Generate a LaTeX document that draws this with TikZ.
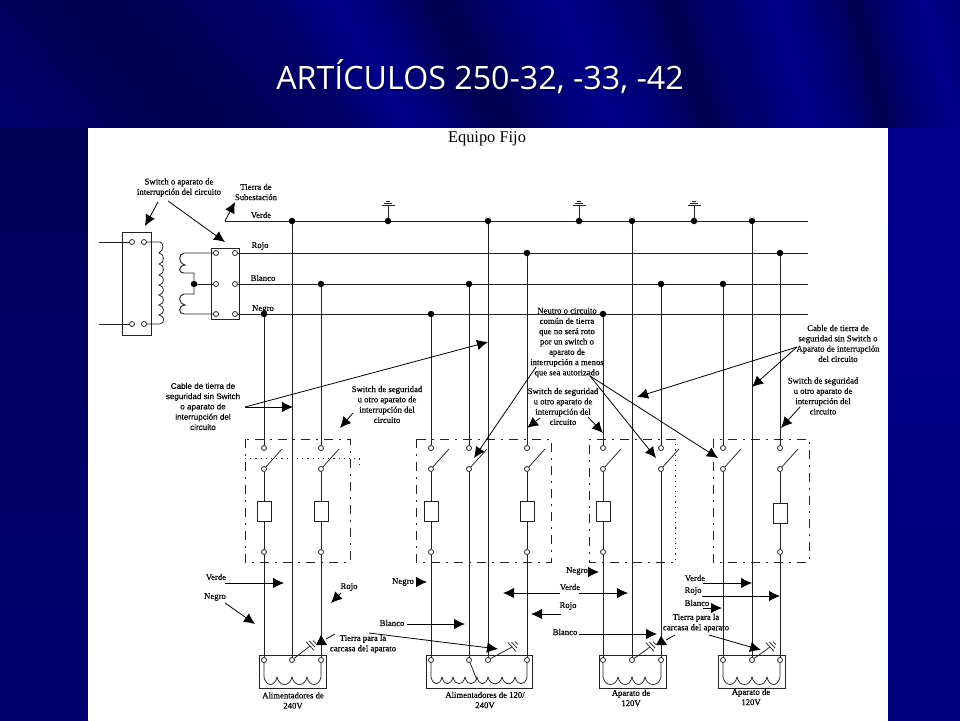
\documentclass[tikz,border=0pt]{standalone}
\usepackage{fontspec}
\setmainfont{Liberation Serif}
\newfontfamily\lblfont[FakeBold=0.35]{Liberation Serif}
\newfontfamily\cablefont[FakeBold=0.25]{Liberation Sans}
\newfontfamily\titlefont{Open Sans}
\usetikzlibrary{arrows.meta,calc}
\definecolor{baseblue}{RGB}{0,0,110}
\definecolor{brightblue}{RGB}{0,0,205}
\definecolor{darkblue}{RGB}{0,0,35}
\definecolor{leftTop}{RGB}{0,0,88}
\definecolor{leftBot}{RGB}{0,0,112}
\definecolor{rightTop}{RGB}{0,0,145}
\definecolor{rightBot}{RGB}{0,0,122}
\definecolor{ink}{RGB}{35,35,35}
\tikzset{
  wire/.style={draw=ink,line width=0.95pt},
  thinwire/.style={draw=ink,line width=0.75pt},
  jct/.style={circle,fill=black,draw=none,inner sep=0pt,minimum size=6.5pt},
  term/.style={circle,fill=white,draw=ink,line width=0.8pt,inner sep=0pt,minimum size=5pt},
  fuse/.style={rectangle,fill=white,draw=ink,line width=0.95pt,inner sep=0pt,minimum width=14pt,minimum height=20pt},
  panelbox/.style={draw=ink,line width=1pt,dash pattern=on 9pt off 6pt on 2pt off 6pt},
  dotline/.style={draw=ink,line width=0.8pt,dash pattern=on 1.2pt off 4pt},
  unit/.style={rectangle,draw=ink,line width=0.95pt},
  callout/.style={draw=black,line width=0.8pt,-{Latex[length=11pt,width=10.5pt]}},
  plainline/.style={draw=black,line width=0.8pt},
  lbl/.style={inner sep=0pt,align=center,text=black,font=\lblfont\fontsize{8.7}{10.3}\selectfont},
  cablelbl/.style={inner sep=0pt,align=center,text=black,font=\cablefont\fontsize{8.1}{10.3}\selectfont},
}
% soft background streak: x on the top edge, half width, drift over 128 px, colour
\newcommand\softband[4]{%
  \foreach \k in {1,...,10}{%
    \fill[#4,opacity=.04] ({#1-#2*\k/10},0) -- ({#1+#2*\k/10},0) -- ({#1+#3+#2*\k/10},128) -- ({#1+#3-#2*\k/10},128) -- cycle;
  }%
}
% switch column with a load: id, x, bus y, fuse centre y
\newcommand\loadcol[4]{%
  \node[jct] (J#1) at (#2,#3) {};
  \node[term] (U#1) at (#2,448) {};
  \node[term] (L#1) at (#2,469) {};
  \node[fuse] (F#1) at (#2,#4) {};
  \node[term] (Q#1) at (#2,552) {};
  \node[term] (T#1) at (#2,660) {};
  \coordinate (B#1) at ({#2+18},449);
  \draw[wire] (J#1) -- (U#1);
  \draw[thinwire] (L#1) -- (B#1);
  \draw[wire] (L#1) -- (F#1);
  \draw[wire] (F#1) -- (Q#1);
  \draw[wire] (Q#1) -- (T#1);
}
% switch column with no load
\newcommand\plaincol[3]{%
  \node[jct] (J#1) at (#2,#3) {};
  \node[term] (U#1) at (#2,448) {};
  \node[term] (L#1) at (#2,469) {};
  \node[term] (T#1) at (#2,660) {};
  \coordinate (B#1) at ({#2+18},449);
  \draw[wire] (J#1) -- (U#1);
  \draw[thinwire] (L#1) -- (B#1);
  \draw[wire] (L#1) -- (T#1);
}
% straight column
\newcommand\thrucol[3]{%
  \node[jct] (J#1) at (#2,#3) {};
  \node[term] (T#1) at (#2,660) {};
  \draw[wire] (J#1) -- (T#1);
}
% ground on a bus
\newcommand\busground[2]{%
  \node[jct] (G#1) at (#2,221) {};
  \coordinate (GS#1) at (#2,205);
  \draw[wire] (G#1) -- (GS#1);
  \draw[wire] ({#2-6.5},205) -- ({#2+6.5},205);
  \draw[thinwire] ({#2-4},203) -- ({#2+4},203);
  \draw[thinwire] ({#2-2},201) -- ({#2+2},201);
}
% tilted ground from a terminal
\newcommand\tiltground[3]{%
  \coordinate (E#1) at (#2,#3);
  \draw[thinwire] (T#1) -- (E#1);
  \draw[thinwire] ({#2-4},{#3-4.4}) -- ({#2+4},{#3+4.4});
  \draw[thinwire] ({#2+2.2-2.8},{#3-2-3}) -- ({#2+2.2+2.8},{#3-2+3});
  \draw[thinwire] ({#2+4.4-1.4},{#3-4-1.5}) -- ({#2+4.4+1.4},{#3-4+1.5});
}
% callout arrow: id, start, end
\newcommand\arrowline[3]{%
  \coordinate (#1s) at (#2);
  \coordinate (#1e) at (#3);
  \draw[callout] (#1s) -- (#1e);
}
\begin{document}
\begin{tikzpicture}[x=1pt,y=-1pt]
\useasboundingbox (0,0) rectangle (960,720);
% ---------- background
\begin{scope}
\clip (0,0) rectangle (960,720);
\fill[baseblue] (0,0) rectangle (960,720);
\softband{90}{190}{110}{darkblue}
\softband{335}{55}{75}{brightblue}
\softband{440}{50}{65}{darkblue}
\softband{560}{60}{55}{brightblue}
\softband{670}{35}{40}{darkblue}
\softband{775}{45}{35}{brightblue}
\softband{855}{25}{30}{darkblue}
\softband{925}{40}{30}{brightblue}
\shade[top color=leftTop,bottom color=leftBot,draw=none] (0,128) rectangle (88,720);
\shade[top color=rightTop,bottom color=rightBot,draw=none] (888,128) rectangle (960,720);
\fill[white] (88,128) rectangle (888,720);
\end{scope}
% ---------- title
\node[inner sep=0pt,text=black!75!blue,font=\titlefont\fontsize{32.2}{38}\selectfont] (titleshadow) at (481.5,78.5) {ARTÍCULOS 250-32, -33, -42};
\node[inner sep=0pt,text=white,font=\titlefont\fontsize{32.2}{38}\selectfont] (title) at (480,77) {ARTÍCULOS 250-32, -33, -42};
\node[inner sep=0pt,text=black,font=\fontsize{16.4}{19}\selectfont] (equipo) at (487,139) {Equipo Fijo};
% ---------- buses
\coordinate (vS) at (225,221);
\coordinate (vE) at (808,221);
\coordinate (rE) at (808,253);
\coordinate (bE) at (808,284);
\coordinate (nE) at (808,314);
% ---------- primary unit
\node[unit,minimum width=29pt,minimum height=103pt,inner sep=0pt] (prim) at (136.5,283.5) {};
\node[term] (p1) at (132,242) {};
\node[term] (p2) at (144,242) {};
\node[term] (p3) at (132,324) {};
\node[term] (p4) at (144,324) {};
\coordinate (pinA) at (99,242);
\coordinate (pinB) at (99,324);
\draw[wire] (pinA) -- (p1);
\draw[wire] (pinB) -- (p3);
\draw[thinwire] (p2) -- (160,242) .. controls (164,243) and (164,250) .. (159,253)
  foreach \a/\b in {253/264,264/275,275/285,285/295,295/305,305/315} { .. controls (165,{\a+1}) and (165,{\b-1}) .. (159,\b) }
  .. controls (165,316) and (165,323) .. (160,324) -- (p4);
% ---------- secondary unit
\node[unit,minimum width=28pt,minimum height=71pt,inner sep=0pt] (sec) at (225,283.5) {};
\node[term] (s1) at (216,253) {};
\node[term] (s2) at (235,253) {};
\node[term] (s3) at (216,284) {};
\node[term] (s4) at (235,284) {};
\node[term] (s5) at (216,314) {};
\node[term] (s6) at (235,314) {};
\node[jct] (scentre) at (194,284) {};
\draw[wire] (s3) -- (scentre);
\draw[wire] (s1) -- (184,253) .. controls (178,254) and (178,263) .. (185,265)
   .. controls (178,266) and (178,273) .. (184,273) -- (194,273) -- (scentre);
\draw[wire] (scentre) -- (194,294) -- (184,294) .. controls (178,295) and (178,303) .. (185,305)
   .. controls (178,306) and (178,314) .. (184,314) -- (s5);
\draw[wire] (vS) -- (vE);
\draw[wire] (s2) -- (rE);
\draw[wire] (s4) -- (bE);
\draw[wire] (s6) -- (nE);
% ---------- bus grounds
\busground{a}{388}
\busground{b}{579}
\busground{c}{694}
% ---------- dash-dot panels
\draw[panelbox] (245,439) rectangle (350,562);
\draw[panelbox] (416,439) rectangle (551,562);
\draw[panelbox] (713,439) rectangle (809,562);
\draw[panelbox] (675,439) -- (589,439) -- (589,562) -- (675,562);
\draw[dotline] (675,439) -- (675,562);
\draw[dotline] (245,458) -- (359,458) -- (359,468);
% ---------- columns
\loadcol{a}{264}{314}{511}
\thrucol{b}{292}{221}
\loadcol{c}{321}{284}{511}
\loadcol{d}{431}{314}{511}
\plaincol{e}{469}{284}
\thrucol{f}{488}{221}
\loadcol{g}{527}{253}{511}
\loadcol{h}{603}{314}{511}
\thrucol{i}{632}{221}
\plaincol{j}{661}{284}
\plaincol{k}{723}{284}
\thrucol{l}{752}{221}
\loadcol{m}{780}{253}{513}
% ---------- load boxes and windings
\node[unit,minimum width=67pt,minimum height=33pt,inner sep=0pt] (box1) at (292.5,671.5) {};
\node[unit,minimum width=106pt,minimum height=33pt,inner sep=0pt] (box2) at (479,671.5) {};
\node[unit,minimum width=67pt,minimum height=33pt,inner sep=0pt] (box3) at (632.5,671.5) {};
\node[unit,minimum width=67pt,minimum height=33pt,inner sep=0pt] (box4) at (751.5,671.5) {};
\draw[thinwire] (Ta) -- (264,677) foreach \a/\b in {264/277,277/292,292/307,307/321} { .. controls ({\a+2},687) and ({\b-2},687) .. (\b,677) } -- (Tc);
\draw[thinwire] (Td) -- (431,677) foreach \a/\b in {431/442,442/453,453/465,465/477,477/488,488/502,502/515,515/527} { .. controls ({\a+2},686) and ({\b-2},686) .. (\b,677) } -- (Tg);
\coordinate (midtap) at (477,680);
\draw[thinwire] (Te) -- (midtap);
\draw[thinwire] (Th) -- (603,677) foreach \a/\b in {603/618,618/632,632/645,645/661} { .. controls ({\a+2},687) and ({\b-2},687) .. (\b,677) } -- (Tj);
\draw[thinwire] (Tk) -- (723,677) foreach \a/\b in {723/737,737/752,752/767,767/780} { .. controls ({\a+2},687) and ({\b-2},687) .. (\b,677) } -- (Tm);
\tiltground{b}{310}{646}
\tiltground{f}{512}{647}
\tiltground{i}{650}{647}
\tiltground{l}{770}{647}
% ---------- labels, upper
\node[lbl] (t1) at (179,187.5) {Switch o aparato de\\interrupción del circuito};
\node[lbl] (t2) at (256,192) {Tierra de\\Subestación};
\node[lbl] (t3) at (261,215) {Verde};
\node[lbl] (t4) at (260,246) {Rojo};
\node[lbl] (t5) at (263,278) {Blanco};
\node[lbl] (t6) at (263,309) {Negro};
\node[cablelbl] (t7) at (203,406.5) {Cable de tierra de\\seguridad sin Switch\\o aparato de\\interrupción del\\circuito};
\node[lbl] (t8) at (387,404.5) {Switch de seguridad\\u otro aparato de\\interrupción del\\circuito};
\node[lbl] (t9) at (567,342.5) {Neutro o circuito\\común de tierra\\que no será roto\\por un switch o\\aparato de\\interrupción a menos\\que sea autorizado};
\node[lbl] (t10) at (563,406.5) {Switch de seguridad\\u otro aparato de\\interrupción del\\circuito};
\node[lbl] (t11) at (838,343.5) {Cable de tierra de\\seguridad sin Switch o\\Aparato de interrupción\\del circuito};
\node[lbl] (t12) at (823,396) {Switch de seguridad\\u otro aparato de\\interrupción del\\circuito};
% ---------- labels, lower
\node[lbl] (b1) at (216,577) {Verde};
\node[lbl] (b2) at (215,597) {Negro};
\node[lbl] (b3) at (349,587) {Rojo};
\node[lbl] (b4) at (363,644) {Tierra para la\\carcasa del aparato};
\node[lbl] (b5) at (293,700.5) {Alimentadores de\\240V};
\node[lbl] (b6) at (403,582) {Negro};
\node[lbl] (b7) at (392,623) {Blanco};
\node[lbl] (b8) at (570,587) {Verde};
\node[lbl] (b9) at (568,606) {Rojo};
\node[lbl] (b10) at (565,632) {Blanco};
\node[lbl] (b11) at (577,571) {Negro};
\node[lbl] (b12) at (485,700) {Alimentadores de 120/\\240V};
\node[lbl] (b13) at (631,698) {Aparato de\\120V};
\node[lbl] (b14) at (696,623) {Tierra para la\\carcasa del aparato};
\node[lbl] (b15) at (695,578) {Verde};
\node[lbl] (b16) at (693,591) {Rojo};
\node[lbl] (b17) at (697,603) {Blanco};
\node[lbl] (b18) at (751,697) {Aparato de\\120V};
% ---------- callouts, upper
\arrowline{a1}{158,202}{145,226}
\arrowline{a2}{168,201}{225,242}
\arrowline{a3}{225,221}{235,202}
\arrowline{a4}{245,407}{293,407}
\arrowline{a5}{245,407}{488,342}
\arrowline{a6}{353,413}{340,428}
\arrowline{a7}{536,367}{474,458}
\arrowline{a8}{540,418}{527,428}
\arrowline{a9}{588,417}{603,433}
\arrowline{a10}{590,376}{656,458}
\arrowline{a11}{590,376}{718,458}
\arrowline{a12}{797,347}{637,397}
\arrowline{a13}{797,347}{752,387}
\arrowline{a14}{800,407}{781,428}
% ---------- callouts, lower
\arrowline{c1}{225,583}{284,583}
\arrowline{c2}{225,603}{255,624}
\arrowline{c3}{341,593}{331,603}
\arrowline{c4}{416,582}{427,582}
\arrowline{c5}{407,624}{465,624}
\arrowline{c6}{369,633}{498,649}
\arrowline{c7}{560,593}{503,593}
\arrowline{c8}{579,593}{628,593}
\arrowline{c9}{561,614}{531,614}
\arrowline{c10}{579,634}{657,634}
\arrowline{c11}{589,572}{599,572}
\arrowline{c12}{703,583}{752,583}
\arrowline{c13}{702,596}{780,596}
\arrowline{c14}{703,608}{722,608}
\arrowline{c15}{709,635}{761,650}
% upright heads on the carcass-ground callouts
\coordinate (h1s) at (335,634);
\coordinate (h1e) at (326,639);
\draw[plainline] (h1s) -- (h1e);
\fill[black] (321,635) -- (327,645) -- (316,645) -- cycle;
\coordinate (h2s) at (675,635);
\coordinate (h2e) at (666,640);
\draw[plainline] (h2s) -- (h2e);
\fill[black] (661,636) -- (667,645) -- (656,645) -- cycle;
\end{tikzpicture}
\end{document}
